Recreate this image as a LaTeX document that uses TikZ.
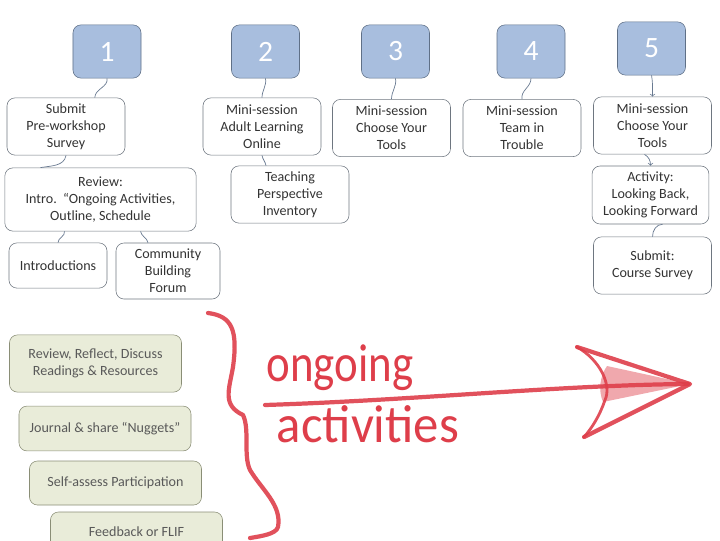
\documentclass[tikz,border=0pt]{standalone}
\usepackage{fontspec}
\setmainfont{Carlito}
\definecolor{numfill}{RGB}{168,190,222}
\definecolor{numline}{RGB}{95,112,135}
\definecolor{boxline}{RGB}{110,118,128}
\definecolor{greenfill}{RGB}{233,236,217}
\definecolor{greenline}{RGB}{138,142,118}
\definecolor{linkline}{RGB}{105,122,145}
\definecolor{redink}{RGB}{222,62,74}
\begin{document}
\begin{tikzpicture}[x=0.025cm,y=-0.025cm,font=\normalsize,
  numbox/.style={draw=numline,fill=numfill,rounded corners=0.2cm,minimum width=1.7cm,minimum height=1.33cm,text=white,font=\fontsize{21}{24}\selectfont},
  textbox/.style={draw=boxline,rounded corners=0.2cm,align=center,text=black!80,minimum width=2.95cm,minimum height=1.43cm,inner sep=1pt},
  greenbox/.style={draw=greenline,fill=greenfill,rounded corners=0.2cm,align=center,text=black!65,minimum width=4.3cm,minimum height=1.12cm},
  link/.style={draw=linkline,line width=0.5pt},
  ink/.style={draw=redink,line width=3pt,line cap=round,line join=round,opacity=0.9}]
\useasboundingbox (0,0) rectangle (720,540);
% numbered sessions
\node[numbox] (n1) at (107,51.5) {1};
\node[numbox] (n2) at (265.5,51.5) {2};
\node[numbox] (n3) at (395.5,51.5) {3};
\node[numbox] (n4) at (531,51.5) {4};
\node[numbox] (n5) at (651.5,48.5) {5};
% session content
\node[textbox] (survey) at (66,126.5) {Submit\\Pre-workshop\\Survey};
\node[textbox] (adult) at (262,126.5) {Mini-session\\Adult Learning\\Online};
\node[textbox] (tools) at (391.5,128) {Mini-session\\Choose Your\\Tools};
\node[textbox] (team) at (522,128) {Mini-session\\Team in\\Trouble};
\node[textbox] (tools5) at (652.5,125.5) {Mini-session\\Choose Your\\Tools};
\node[textbox,minimum width=4.78cm,minimum height=1.58cm] (review) at (100.5,199.5) {Review:\\Intro.\ \ “Ongoing Activities,\\Outline, Schedule};
\node[textbox] (teach) at (290,194.5) {Teaching\\Perspective\\Inventory};
\node[textbox,minimum width=2.92cm,minimum height=1.45cm] (look) at (650.5,195) {Activity:\\Looking Back,\\Looking Forward};
\node[textbox] (course) at (652.5,265.5) {Submit:\\Course Survey};
\node[textbox,minimum width=2.45cm,minimum height=1.13cm] (intro) at (58,265.5) {Introductions};
\node[textbox,minimum width=2.6cm,minimum height=1.4cm] (forum) at (168,271) {Community\\Building\\Forum};
% links
\draw[link] (n1.south) to[out=-80,in=90] ([xshift=0.72cm]survey.north);
\draw[link] (survey.south) to[out=-100,in=10] ([xshift=-1.5cm]review.north);
\draw[link] ([xshift=-0.9cm]review.south) to[out=-80,in=90] (intro.north);
\draw[link] ([xshift=1.0cm]review.south) to[out=-80,in=100] ([xshift=-0.5cm]forum.north);
\draw[link] (n2.south) to[out=-80,in=90] (adult.north);
\draw[link] (adult.south) to[out=-80,in=100] ([xshift=-0.6cm]teach.north);
\draw[link] (n3.south) to[out=-80,in=90] (tools.north);
\draw[link] (n4.south) to[out=-90,in=100] (team.north);
\draw[link,->] (n5.south) to[out=-80,in=90] (tools5.north);
\draw[link,->] ([xshift=-0.2cm]tools5.south) to[out=-30,in=90] (look.north);
\draw[link] ([xshift=0.3cm]look.south) to[out=180,in=90] (course.north);
% ongoing activities
\node[greenbox,minimum height=1.43cm] (readings) at (95.5,363.5) {Review, Reflect, Discuss\\Readings \& Resources};
\node[greenbox] (journal) at (105,428.5) {Journal \& share “Nuggets”};
\node[greenbox,minimum height=1.1cm] (selfassess) at (115.5,483) {Self-assess Participation};
\node[greenbox,minimum height=1.0cm] (feedback) at (136.5,532) {Feedback or FLIF};
% red annotation
\draw[ink] (208,313) .. controls (232,316) and (238,330) .. (233,367)
  .. controls (229,390) and (222,405) .. (243,415)
  .. controls (250,430) and (243,455) .. (250,470)
  .. controls (262,490) and (282,505) .. (278,527)
  .. controls (276,534) and (262,536) .. (250,538);
\draw[ink] (265,405) .. controls (420,400) and (560,385) .. (688,384);
\draw[ink] (577,347) -- (690,384) -- (584,437);
\fill[redink,opacity=0.45] (607,366) -- (690,384) -- (603,402) .. controls (598,390) and (600,376) .. (607,366);
\draw[ink,line width=2pt] (577,347) .. controls (600,360) and (612,385) .. (605,400) .. controls (600,415) and (592,428) .. (584,437);
\node[text=redink,font=\fontsize{38}{38}\selectfont,xscale=0.84,transform shape] (ongoing) at (340,368) {ongoing};
\node[text=redink,font=\fontsize{38}{38}\selectfont,xscale=0.95,transform shape] (activities) at (368,424) {activities};
\end{tikzpicture}
\end{document}
